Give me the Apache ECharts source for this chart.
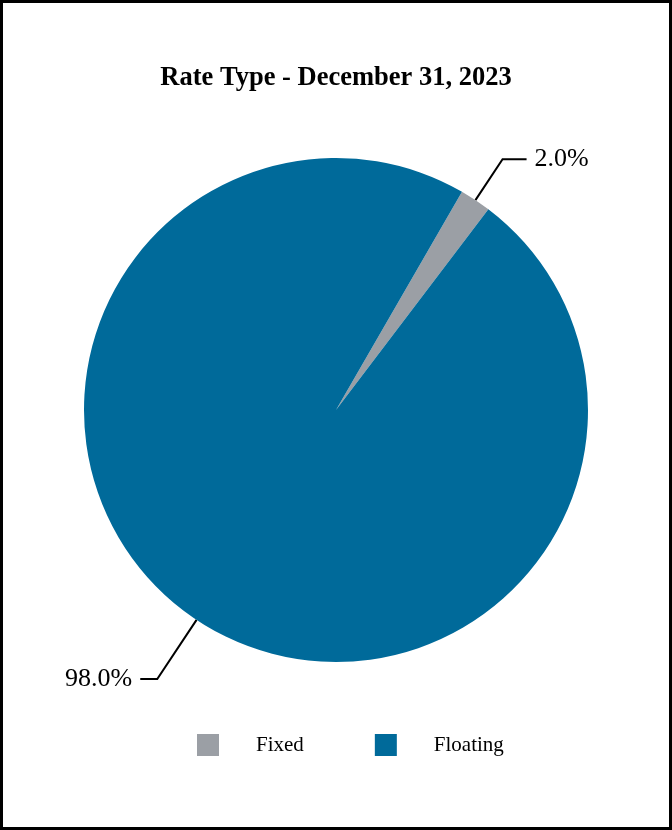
<!DOCTYPE html>
<html>
<head>
<meta charset="utf-8">
<script src="https://cdn.jsdelivr.net/npm/echarts@6/dist/echarts.min.js"></script>
<style>
html,body{margin:0;padding:0;background:#fff;}
#chart{width:672px;height:830px;}
</style>
</head>
<body>
<div id="chart"></div>
<script>
const titleText = "Rate Type - December 31, 2023";
const categories = ["Fixed", "Floating"];
const values = [2.0, 98.0];
const colors = ["#9b9fa5", "#006a9a"];

const chart = echarts.init(document.getElementById('chart'), null, {renderer: 'canvas'});
const font = '"Liberation Serif", "Times New Roman", serif';

chart.setOption({
  animation: false,
  backgroundColor: '#ffffff',
  title: {
    text: titleText,
    left: 'center',
    top: 60,
    textStyle: {fontFamily: font, fontWeight: 'bold', fontSize: 26.5, color: '#000'}
  },
  legend: {
    data: categories,
    left: 192,
    top: 729,
    itemWidth: 22,
    itemHeight: 22,
    itemGap: 71,
    icon: 'rect',
    textStyle: {fontFamily: font, fontSize: 21, color: '#000', padding: [0, 0, 0, 32]}
  },
  graphic: [{
    type: 'rect',
    shape: {x: 1.5, y: 1.5, width: 669, height: 827},
    style: {fill: 'none', stroke: '#000', lineWidth: 3},
    silent: true
  }],
  series: [{
    type: 'pie',
    center: [336, 410],
    radius: [0, 252],
    startAngle: 60,
    clockwise: true,
    data: categories.map((c, i) => ({
      name: c,
      value: values[i],
      itemStyle: {color: colors[i]},
      labelLine: i === 0 ? {length: 49, length2: 24} : {length: 71, length2: 17}
    })),
    label: {
      show: true,
      formatter: p => p.value.toFixed(1) + '%',
      fontFamily: font,
      fontSize: 26,
      color: '#000',
      distanceToLabelLine: 8
    },
    labelLine: {
      show: true,
      smooth: false,
      lineStyle: {color: '#000', width: 2}
    },
    emphasis: {disabled: true}
  }]
});
</script>
</body>
</html>
